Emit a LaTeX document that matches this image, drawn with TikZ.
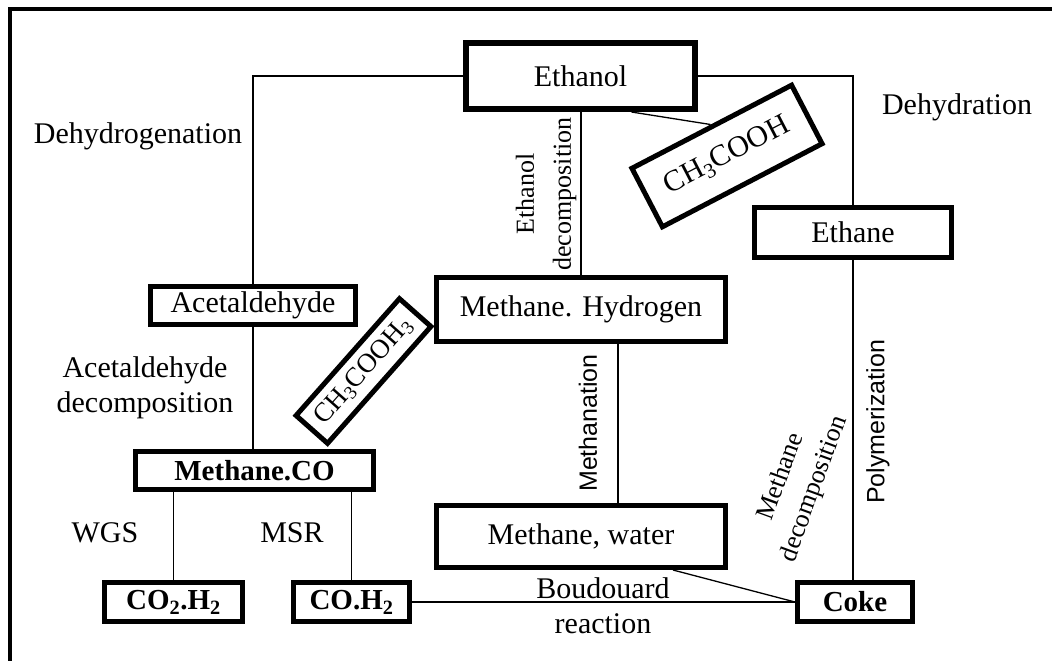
\documentclass[tikz,border=0pt]{standalone}
\usepackage{fontspec}
\setmainfont{Liberation Serif}
\setsansfont{Liberation Sans}
\usepackage{tikz}
\usetikzlibrary{calc}

\begin{document}
\begin{tikzpicture}[x=1pt,y=-1pt,
  box/.style={draw,line width=5pt,inner sep=0pt,align=center},
  conn/.style={line width=1.3pt},
  lbl/.style={inner sep=0pt,align=center}]
 \fontsize{30}{35}\selectfont
 \useasboundingbox (0,0) rectangle (1052,661);
 \draw[line width=4pt] (10,661) -- (10,9) -- (1052,9); %frame

 % species
 \node[box,line width=6pt,minimum width=229pt,minimum height=66pt] (ethanol) at (580.5,76) {Ethanol};
 \node[box,minimum width=205pt,minimum height=38pt] (acetal) at (253,305.5) {Acetaldehyde};
 \node[box,minimum width=238pt,minimum height=38pt] (methco) at (254.5,470.5) {\fontsize{29}{35}\selectfont\bfseries Methane.CO};
 \node[box,minimum width=138pt,minimum height=39pt] (cotwo) at (173.5,602) {\fontsize{29}{35}\selectfont\bfseries CO\textsubscript{2}.H\textsubscript{2}};
 \node[box,minimum width=116pt,minimum height=39pt] (coh) at (351.5,602) {\fontsize{29}{35}\selectfont\bfseries CO.H\textsubscript{2}};
 \node[box,minimum width=115pt,minimum height=39pt] (coke) at (855,602) {\fontsize{29}{35}\selectfont\bfseries Coke};
 \node[box,minimum width=289pt,minimum height=64pt] (methhyd) at (581,309.5) {Methane. Hydrogen};
 \node[box,minimum width=289pt,minimum height=62pt] (methwat) at (581,536.5) {Methane, water};
 \node[box,minimum width=197pt,minimum height=50pt] (ethane) at (853,232.5) {Ethane};
 \node[box,minimum width=180pt,minimum height=66pt,rotate=27.5] (acidA) at (727,156) {CH\textsubscript{3}COOH};
 \node[box,minimum width=156pt,minimum height=42pt,rotate=48.5] (acidB) at (363.5,371) {\fontsize{27}{30}\selectfont CH\textsubscript{3}COOH\textsubscript{3}};

 % connectors
 \draw[conn] (ethanol.west) -| (acetal.north);
 \draw[conn] (acetal.south) -- (acetal.south |- methco.north);
 \draw[conn] (cotwo.north |- methco.south) -- (cotwo.north);
 \draw[conn] (coh.north |- methco.south) -- (coh.north);
 \draw[conn] (coh.east) -- (coke.west);
 \draw[conn] ($(methwat.south)+(92,0)$) -- (coke.west);
 \draw[conn] (methhyd.north |- ethanol.south) -- (methhyd.north);
 \draw[conn] ($(methhyd.south)+(37,0)$) -- ($(methwat.north)+(37,0)$);
 \draw[conn] (ethanol.east) -| (ethane.north);
 \draw[conn] (ethane.south) -- (ethane.south |- coke.north);
 \draw[conn] ($(ethanol.south)+(51,0)$) -- (acidA.north);

 % reactions
 \node[lbl] (dehydrog) at (138,136) {Dehydrogenation};
 \node[lbl] (acdecomp) at (145,388) {Acetaldehyde\\decomposition};
 \node[lbl] (wgs) at (105,533) {WGS};
 \node[lbl] (msr) at (292,533) {MSR};
 \node[lbl] (boud) at (603,606) {Boudouard\\reaction};
 \node[lbl,rotate=90,font=\fontsize{26}{37}\selectfont] (etdecomp) at (546,194) {Ethanol\\decomposition};
 \node[lbl,rotate=90,font=\sffamily\fontsize{25}{30}\selectfont] (methan) at (588,423) {Methanation};
 \node[lbl,rotate=90,font=\sffamily\fontsize{25}{30}\selectfont] (polym) at (878,422) {Polymerization};
 \node[lbl,rotate=70,font=\fontsize{26}{35}\selectfont] (medecomp) at (798,483) {Methane\\decomposition};
 \node[lbl] (dehydr) at (957,107) {Dehydration};
\end{tikzpicture}
\end{document}
